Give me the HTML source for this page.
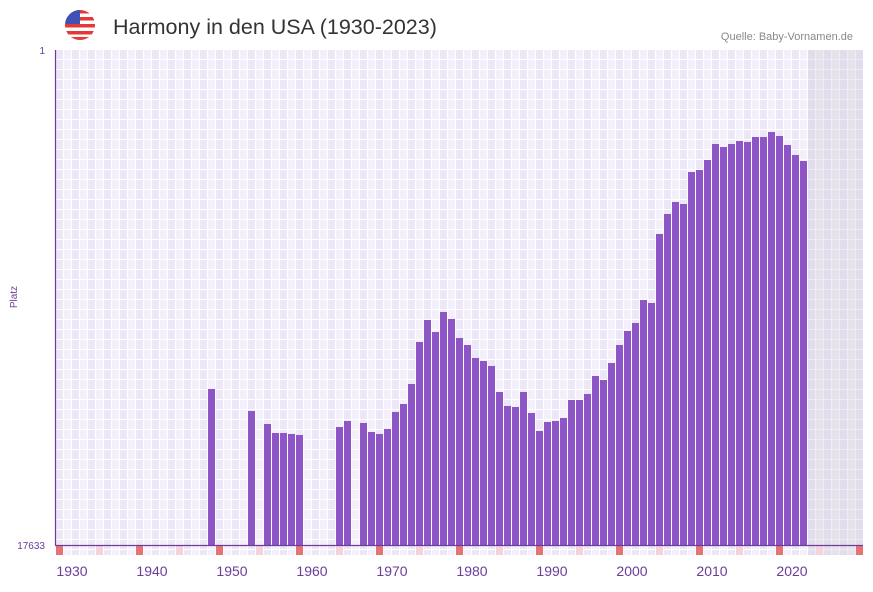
<!DOCTYPE html>
<html><head><meta charset="utf-8"><style>
body{margin:0;background:#fff;font-family:"Liberation Sans","DejaVu Sans",sans-serif}
</style></head><body>
<svg width="873" height="587" xmlns="http://www.w3.org/2000/svg" font-family="Liberation Sans, DejaVu Sans, sans-serif">
<defs>
<pattern id="g" x="56" y="50" width="16" height="10" patternUnits="userSpaceOnUse">
<rect width="16" height="10" fill="#ffffff"/>
<rect x="0" y="0" width="7" height="9" fill="#ede6f8"/>
<rect x="8" y="0" width="7" height="9" fill="#f3effb"/>
</pattern>
<pattern id="g2" x="56" y="50" width="16" height="10" patternUnits="userSpaceOnUse">
<rect width="16" height="10" fill="#efedf3"/>
<rect x="0" y="0" width="7" height="9" fill="#e2dcec"/>
<rect x="8" y="0" width="7" height="9" fill="#e6e2ec"/>
</pattern>
<clipPath id="fc"><circle cx="80" cy="25" r="15"/></clipPath>
</defs>
<g clip-path="url(#fc)">
<rect x="65" y="10" width="30" height="30" fill="#fff"/>
<rect x="65" y="10" width="30" height="3.5" fill="#e53935"/>
<rect x="65" y="17" width="30" height="3.5" fill="#e53935"/>
<rect x="65" y="24" width="30" height="3.5" fill="#e53935"/>
<rect x="65" y="31" width="30" height="3.5" fill="#e53935"/>
<rect x="65" y="37" width="30" height="3.5" fill="#e53935"/>
<rect x="65" y="10" width="15" height="14" fill="#3f51b5"/>
</g>
<text x="113" y="34" font-size="21.5" fill="#333">Harmony in den USA (1930-2023)</text>
<text x="853" y="40" font-size="11" fill="#888" text-anchor="end">Quelle: Baby-Vornamen.de</text>
<rect x="56" y="50" width="752" height="505" fill="url(#g)"/>
<rect x="808" y="50" width="55" height="505" fill="url(#g2)"/>
<g fill="#8e55c7" id="bars"></g>
<g id="marks"></g>
<line x1="55.5" y1="50" x2="55.5" y2="545" stroke="#6a3d9a" stroke-width="1.2"/>
<line x1="55" y1="545.5" x2="863" y2="545.5" stroke="#6a3d9a" stroke-width="1.2"/>
<text x="45" y="54" font-size="10" fill="#6a3d9a" text-anchor="end">1</text>
<text x="45" y="549" font-size="10" fill="#6a3d9a" text-anchor="end">17633</text>
<text x="17" y="297" font-size="10" fill="#6a3d9a" text-anchor="middle" transform="rotate(-90 17 297)">Platz</text>
<g font-size="14" fill="#6a3d9a" text-anchor="middle" id="xl"></g>
</svg>
<script>
var d={1947:389,1952:411,1954:424,1955:433,1956:433,1957:434,1958:435,1963:427,1964:421,1966:423,1967:432,1968:434,1969:429,1970:412,1971:404,1972:384,1973:342,1974:320,1975:332,1976:312,1977:319,1978:338,1979:345,1980:358,1981:361,1982:366,1983:392,1984:406,1985:407,1986:392,1987:413,1988:431,1989:422,1990:421,1991:418,1992:400,1993:400,1994:394,1995:376,1996:380,1997:363,1998:345,1999:331,2000:323,2001:300,2002:303,2003:234,2004:214,2005:202,2006:204,2007:172,2008:170,2009:160,2010:144,2011:147,2012:144,2013:141,2014:142,2015:137,2016:137,2017:132,2018:136,2019:145,2020:155,2021:161};
var ns="http://www.w3.org/2000/svg",b=document.getElementById("bars"),m=document.getElementById("marks"),xl=document.getElementById("xl");
function r(p,x,y,w,h,f){var e=document.createElementNS(ns,"rect");e.setAttribute("x",x);e.setAttribute("y",y);e.setAttribute("width",w);e.setAttribute("height",h);if(f)e.setAttribute("fill",f);p.appendChild(e);}
for(var y in d){var x=56+(y-1928)*8;r(b,x,d[y],7,545-d[y]);}
for(var y=1928;y<=2028;y+=5){var x=56+(y-1928)*8;r(m,x,546,7,9,(y%10==8)?"#e57373":"#f5d3dc");}
for(var y=1930;y<=2020;y+=10){var t=document.createElementNS(ns,"text");t.setAttribute("x",56+(y-1928)*8);t.setAttribute("y",576);t.textContent=y;xl.appendChild(t);}
</script>
</body></html>
